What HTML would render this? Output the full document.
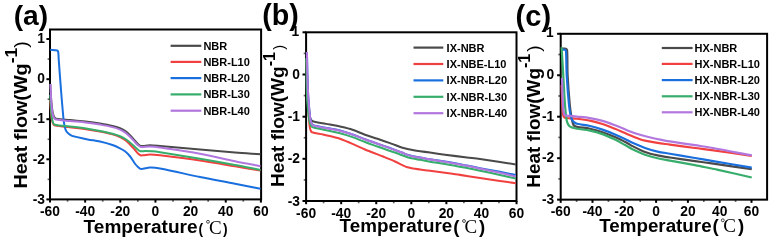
<!DOCTYPE html>
<html><head><meta charset="utf-8"><title>DSC curves</title>
<style>
html,body{margin:0;padding:0;background:#fff;}
body{width:775px;height:240px;overflow:hidden;}
svg{display:block;font-family:"Liberation Sans",sans-serif;transform:translateZ(0);will-change:transform;}
</style></head><body>
<svg width="775" height="240" viewBox="0 0 775 240">
<rect width="775" height="240" fill="#fff"/>
<!-- panel a -->
<g stroke="#000" stroke-width="2" fill="none">
<rect x="50.00" y="29.50" width="211.10" height="169.90"/>
<line x1="50.00" y1="199.40" x2="50.00" y2="202.60"/>
<line x1="85.15" y1="199.40" x2="85.15" y2="202.60"/>
<line x1="120.30" y1="199.40" x2="120.30" y2="202.60"/>
<line x1="155.45" y1="199.40" x2="155.45" y2="202.60"/>
<line x1="190.60" y1="199.40" x2="190.60" y2="202.60"/>
<line x1="225.75" y1="199.40" x2="225.75" y2="202.60"/>
<line x1="260.90" y1="199.40" x2="260.90" y2="202.60"/>
<line x1="50.00" y1="39.00" x2="46.40" y2="39.00"/>
<line x1="50.00" y1="79.20" x2="46.40" y2="79.20"/>
<line x1="50.00" y1="119.20" x2="46.40" y2="119.20"/>
<line x1="50.00" y1="159.30" x2="46.40" y2="159.30"/>
<line x1="50.00" y1="199.40" x2="46.40" y2="199.40"/>
</g>
<g stroke="#000" stroke-width="1.7" opacity="0.6">
<line x1="67.55" y1="199.40" x2="67.55" y2="201.70"/>
<line x1="102.70" y1="199.40" x2="102.70" y2="201.70"/>
<line x1="137.85" y1="199.40" x2="137.85" y2="201.70"/>
<line x1="173.00" y1="199.40" x2="173.00" y2="201.70"/>
<line x1="208.15" y1="199.40" x2="208.15" y2="201.70"/>
<line x1="243.30" y1="199.40" x2="243.30" y2="201.70"/>
<line x1="50.00" y1="59.10" x2="47.60" y2="59.10"/>
<line x1="50.00" y1="99.20" x2="47.60" y2="99.20"/>
<line x1="50.00" y1="139.25" x2="47.60" y2="139.25"/>
<line x1="50.00" y1="179.35" x2="47.60" y2="179.35"/>
</g>
<g fill="none" stroke-width="2.0" stroke-linejoin="round" stroke-linecap="butt">
<path d="M50.20 84.00C50.53 89.28 50.75 94.73 51.20 100.00C51.54 103.97 51.93 108.07 52.60 112.00C52.89 113.70 53.28 115.48 54.10 117.00C54.52 117.79 55.32 118.53 56.20 118.70C60.69 119.58 65.44 119.66 70.00 120.10C75.77 120.65 81.74 121.05 87.50 121.70C91.64 122.17 95.89 122.81 100.00 123.50C104.14 124.20 108.41 124.94 112.50 125.90C115.02 126.49 117.60 127.24 120.00 128.20C121.74 128.90 123.46 129.84 125.00 130.90C126.77 132.12 128.47 133.58 130.00 135.10C131.84 136.93 133.47 139.06 135.20 141.00C136.18 142.10 137.13 143.29 138.20 144.30C138.89 144.95 139.60 145.70 140.50 146.00C141.28 146.26 142.18 145.96 143.00 145.90C145.31 145.73 147.68 145.29 150.00 145.30C153.31 145.32 156.70 145.72 160.00 146.00C173.20 147.11 186.80 148.36 200.00 149.50C211.55 150.50 223.44 151.59 235.00 152.50C243.41 153.16 252.09 153.67 260.50 154.25" stroke="#4a4a4a"/>
<path d="M50.20 100.00C50.63 105.94 50.80 112.09 51.50 118.00C51.73 119.90 52.20 121.86 53.00 123.60C53.39 124.45 54.09 125.41 55.00 125.60C59.87 126.63 65.06 126.62 70.00 127.20C75.78 127.88 81.74 128.56 87.50 129.40C91.64 130.01 95.89 130.78 100.00 131.60C104.15 132.43 108.42 133.30 112.50 134.40C115.03 135.08 117.61 135.93 120.00 137.00C121.76 137.79 123.46 138.85 125.00 140.00C126.78 141.33 128.43 142.93 130.00 144.50C131.73 146.23 133.37 148.17 135.00 150.00C136.01 151.14 136.90 152.44 138.00 153.50C138.73 154.21 139.54 154.96 140.50 155.30C141.28 155.58 142.18 155.37 143.00 155.30C145.32 155.10 147.67 154.50 150.00 154.50C153.31 154.50 156.71 154.91 160.00 155.30C173.22 156.89 186.83 158.58 200.00 160.50C211.58 162.19 223.45 164.32 235.00 166.25C243.42 167.66 252.09 169.16 260.50 170.60" stroke="#F14040"/>
<path d="M50.20 49.75C52.54 50.00 55.03 49.86 57.30 50.50C57.86 50.66 58.11 51.43 58.20 52.00C58.60 54.62 58.56 57.36 58.75 60.00C59.48 69.90 60.21 80.10 61.00 90.00C61.74 99.24 62.53 108.77 63.40 118.00C63.59 119.99 63.86 122.03 64.20 124.00C64.46 125.50 64.75 127.05 65.20 128.50C65.52 129.53 65.89 130.61 66.50 131.50C67.16 132.46 68.10 133.26 69.00 134.00C69.76 134.62 70.60 135.21 71.50 135.60C72.60 136.08 73.83 136.33 75.00 136.60C79.19 137.58 83.52 138.57 87.75 139.40C91.77 140.19 96.00 140.59 100.00 141.50C104.18 142.45 108.44 143.62 112.50 145.00C115.06 145.87 117.58 147.09 120.00 148.30C121.71 149.16 123.50 150.06 125.00 151.25C126.83 152.70 128.54 154.43 130.00 156.25C131.86 158.57 133.22 161.36 135.00 163.75C135.87 164.92 136.93 166.00 138.00 167.00C138.76 167.71 139.53 168.55 140.50 168.90C141.28 169.18 142.18 168.91 143.00 168.80C145.32 168.48 147.66 167.64 150.00 167.60C153.31 167.54 156.74 167.89 160.00 168.50C173.26 170.99 186.78 174.31 200.00 177.00C211.53 179.34 223.45 181.51 235.00 183.75C243.42 185.38 252.09 187.10 260.50 188.75" stroke="#1A6FDF"/>
<path d="M50.20 95.00C50.63 101.60 50.83 108.42 51.50 115.00C51.76 117.51 52.15 120.12 53.00 122.50C53.34 123.45 54.02 124.57 55.00 124.80C59.85 125.94 65.05 125.90 70.00 126.50C75.78 127.20 81.74 127.89 87.50 128.75C91.64 129.37 95.89 130.18 100.00 131.00C104.14 131.83 108.41 132.69 112.50 133.75C115.02 134.41 117.58 135.23 120.00 136.20C121.72 136.89 123.43 137.76 125.00 138.75C126.75 139.85 128.41 141.19 130.00 142.50C131.71 143.91 133.36 145.50 135.00 147.00C136.00 147.91 136.93 148.97 138.00 149.80C138.75 150.38 139.56 151.09 140.50 151.25C141.97 151.50 143.51 151.00 145.00 151.00C147.48 151.00 150.03 151.05 152.50 151.25C154.99 151.45 157.54 151.81 160.00 152.20C173.21 154.29 186.81 156.50 200.00 158.75C211.57 160.72 223.47 162.86 235.00 165.00C243.43 166.57 252.09 168.35 260.50 170.00" stroke="#37AD6B"/>
<path d="M50.50 84.00C50.73 89.28 50.86 94.73 51.20 100.00C51.46 103.97 51.72 108.07 52.30 112.00C52.58 113.89 52.96 115.88 53.80 117.60C54.23 118.48 55.04 119.40 56.00 119.60C60.54 120.55 65.38 120.55 70.00 121.00C75.77 121.57 81.74 122.01 87.50 122.70C91.64 123.20 95.89 123.88 100.00 124.60C104.14 125.33 108.42 126.08 112.50 127.10C115.03 127.73 117.60 128.58 120.00 129.60C121.74 130.34 123.46 131.31 125.00 132.40C126.77 133.66 128.45 135.18 130.00 136.70C131.75 138.42 133.32 140.41 135.00 142.20C135.96 143.22 136.94 144.29 138.00 145.20C138.76 145.85 139.56 146.58 140.50 146.90C141.28 147.17 142.18 146.93 143.00 146.90C145.31 146.83 147.69 146.50 150.00 146.60C153.31 146.74 156.72 147.13 160.00 147.60C173.22 149.49 186.86 151.36 200.00 153.75C211.62 155.87 223.43 158.86 235.00 161.25C243.40 162.99 252.09 164.60 260.50 166.25" stroke="#B177DE"/>
</g>
<g font-size="13.8" font-weight="bold" text-anchor="middle">
<text x="50.00" y="216.30">-60</text>
<text x="85.15" y="216.30">-40</text>
<text x="120.30" y="216.30">-20</text>
<text x="155.45" y="216.30">0</text>
<text x="190.60" y="216.30">20</text>
<text x="225.75" y="216.30">40</text>
<text x="260.90" y="216.30">60</text>
</g>
<g font-size="13.8" font-weight="bold" text-anchor="end">
<text x="45.00" y="43.20">1</text>
<text x="45.00" y="83.40">0</text>
<text x="45.00" y="123.40">-1</text>
<text x="45.00" y="163.50">-2</text>
<text x="45.00" y="203.60">-3</text>
</g>
<g stroke-width="2.2" fill="none">
<line x1="170.60" y1="45.80" x2="201.30" y2="45.80" stroke="#4a4a4a"/>
<line x1="170.60" y1="61.90" x2="201.30" y2="61.90" stroke="#F14040"/>
<line x1="170.60" y1="78.10" x2="201.30" y2="78.10" stroke="#1A6FDF"/>
<line x1="170.60" y1="94.40" x2="201.30" y2="94.40" stroke="#37AD6B"/>
<line x1="170.60" y1="110.70" x2="201.30" y2="110.70" stroke="#B177DE"/>
</g>
<g font-size="11" font-weight="bold">
<text x="203.40" y="49.70">NBR</text>
<text x="203.40" y="65.80">NBR-L10</text>
<text x="203.40" y="82.00">NBR-L20</text>
<text x="203.40" y="98.30">NBR-L30</text>
<text x="203.40" y="114.60">NBR-L40</text>
</g>
<text x="13.7" y="25.0" font-size="28.2" font-weight="bold">(a)</text>
<g transform="translate(26.90 114.80) rotate(-90)">
<text x="0" y="0" font-size="18.3" font-weight="bold" text-anchor="middle" textLength="147.5" lengthAdjust="spacingAndGlyphs">Heat flow(Wg<tspan font-size="16.3" dy="-9.5">-1</tspan><tspan dx="0.0" dy="9.5" font-weight="normal" font-size="18.3">)</tspan></text>
</g>
<text x="83.60" y="233.10" font-size="18" font-weight="bold" textLength="114.0" lengthAdjust="spacingAndGlyphs">Temperature</text>
<text x="198.4" y="233.9" font-size="13.8" font-weight="bold">(</text><circle cx="208" cy="221.8" r="1.45" fill="none" stroke="#000" stroke-width="0.7"/><text x="209" y="233.8" font-size="19" font-family="Liberation Serif,serif">C</text><text x="222.9" y="233.9" font-size="13.8" font-weight="bold">)</text>
<!-- panel b -->
<g stroke="#000" stroke-width="2" fill="none">
<rect x="306.10" y="32.30" width="210.40" height="168.70"/>
<line x1="306.10" y1="201.00" x2="306.10" y2="204.20"/>
<line x1="341.17" y1="201.00" x2="341.17" y2="204.20"/>
<line x1="376.24" y1="201.00" x2="376.24" y2="204.20"/>
<line x1="411.31" y1="201.00" x2="411.31" y2="204.20"/>
<line x1="446.38" y1="201.00" x2="446.38" y2="204.20"/>
<line x1="481.45" y1="201.00" x2="481.45" y2="204.20"/>
<line x1="516.52" y1="201.00" x2="516.52" y2="204.20"/>
<line x1="306.10" y1="32.30" x2="302.50" y2="32.30"/>
<line x1="306.10" y1="74.50" x2="302.50" y2="74.50"/>
<line x1="306.10" y1="116.70" x2="302.50" y2="116.70"/>
<line x1="306.10" y1="158.80" x2="302.50" y2="158.80"/>
<line x1="306.10" y1="201.00" x2="302.50" y2="201.00"/>
</g>
<g stroke="#000" stroke-width="1.7" opacity="0.6">
<line x1="323.60" y1="201.00" x2="323.60" y2="203.30"/>
<line x1="358.67" y1="201.00" x2="358.67" y2="203.30"/>
<line x1="393.74" y1="201.00" x2="393.74" y2="203.30"/>
<line x1="428.81" y1="201.00" x2="428.81" y2="203.30"/>
<line x1="463.88" y1="201.00" x2="463.88" y2="203.30"/>
<line x1="498.95" y1="201.00" x2="498.95" y2="203.30"/>
<line x1="306.10" y1="53.40" x2="303.70" y2="53.40"/>
<line x1="306.10" y1="95.60" x2="303.70" y2="95.60"/>
<line x1="306.10" y1="137.75" x2="303.70" y2="137.75"/>
<line x1="306.10" y1="179.90" x2="303.70" y2="179.90"/>
</g>
<g fill="none" stroke-width="2.05" stroke-linejoin="round" stroke-linecap="butt">
<path d="M306.60 60.00C307.06 73.20 307.21 86.82 308.00 100.00C308.34 105.64 309.05 111.43 310.00 117.00C310.21 118.24 310.73 119.51 311.50 120.50C311.95 121.08 312.78 121.34 313.50 121.50C318.91 122.70 324.56 123.56 330.00 124.60C333.30 125.23 336.72 125.81 340.00 126.57C344.15 127.53 348.45 128.48 352.50 129.81C356.71 131.18 360.83 133.22 365.00 134.72C369.08 136.20 373.38 137.45 377.50 138.84C381.63 140.23 385.89 141.69 390.00 143.13C391.66 143.72 393.35 144.39 395.00 144.99C397.47 145.89 400.00 146.88 402.50 147.68C404.12 148.20 405.84 148.60 407.50 148.98C409.96 149.54 412.51 150.07 415.00 150.52C416.64 150.81 418.35 150.99 420.00 151.21C423.30 151.65 426.70 152.08 430.00 152.54C434.95 153.22 440.04 154.02 445.00 154.68C452.25 155.65 459.74 156.56 467.00 157.48C471.29 158.02 475.72 158.49 480.00 159.08C486.61 159.99 493.40 161.02 500.00 162.01C505.22 162.78 510.59 163.61 515.80 164.40" stroke="#4a4a4a"/>
<path d="M306.60 60.00C307.06 74.85 307.34 90.16 308.00 105.00C308.29 111.61 308.84 118.41 309.50 125.00C309.67 126.67 309.95 128.41 310.50 130.00C310.79 130.86 311.15 132.00 312.00 132.30C315.49 133.53 319.39 133.61 323.00 134.40C327.15 135.31 331.38 136.43 335.50 137.47C336.99 137.85 338.56 138.16 340.00 138.70C344.18 140.26 348.41 142.07 352.50 143.84C356.66 145.64 360.85 147.69 365.00 149.51C366.63 150.22 368.34 150.86 370.00 151.51C372.47 152.47 375.02 153.44 377.50 154.39C379.15 155.03 380.86 155.66 382.50 156.32C386.64 157.98 390.92 159.64 395.00 161.44C397.36 162.48 399.66 163.83 402.00 164.92C403.79 165.76 405.62 166.68 407.50 167.29C409.27 167.87 411.17 168.20 413.00 168.52C415.30 168.92 417.69 169.13 420.00 169.44C423.30 169.90 426.70 170.41 430.00 170.86C434.95 171.53 440.05 172.15 445.00 172.81C449.95 173.48 455.06 174.14 460.00 174.87C466.61 175.84 473.40 176.96 480.00 177.97C486.60 178.98 493.40 180.01 500.00 180.97C505.21 181.73 510.59 182.46 515.80 183.20" stroke="#F14040"/>
<path d="M306.90 52.00C307.23 64.54 307.32 77.47 307.90 90.00C308.28 98.27 309.00 106.76 309.80 115.00C310.03 117.33 310.28 119.77 311.00 122.00C311.39 123.19 311.99 124.58 313.10 125.15C315.20 126.22 317.78 126.19 320.10 126.65C323.39 127.31 326.81 127.89 330.10 128.53C333.41 129.19 336.84 129.72 340.10 130.59C344.25 131.69 348.45 133.08 352.50 134.49C356.67 135.95 360.86 137.73 365.00 139.25C369.11 140.77 373.37 142.24 377.50 143.70C381.62 145.16 385.88 146.62 390.00 148.08C391.66 148.68 393.35 149.32 395.00 149.94C397.48 150.87 400.03 151.81 402.50 152.77C404.16 153.42 405.81 154.24 407.50 154.81C409.28 155.41 411.16 155.93 413.00 156.33C415.29 156.83 417.69 157.11 420.00 157.52C423.30 158.10 426.69 158.79 430.00 159.33C434.94 160.13 440.06 160.76 445.00 161.59C452.28 162.82 459.75 164.24 467.00 165.59C471.30 166.40 475.70 167.33 480.00 168.14C486.60 169.40 493.41 170.60 500.00 171.86C505.22 172.86 510.59 173.96 515.80 175.00" stroke="#1A6FDF"/>
<path d="M306.30 58.00C306.60 71.86 306.53 86.15 307.20 100.00C307.52 106.63 308.29 113.44 309.30 120.00C309.62 122.05 310.20 124.18 311.20 126.00C311.65 126.81 312.61 127.36 313.50 127.60C318.87 129.03 324.56 129.84 330.00 131.00C333.31 131.71 336.74 132.37 340.00 133.26C344.17 134.39 348.43 135.69 352.50 137.13C356.68 138.61 360.85 140.52 365.00 142.08C369.10 143.63 373.37 145.08 377.50 146.54C381.62 147.99 385.86 149.50 390.00 150.91C391.64 151.47 393.37 151.93 395.00 152.50C396.67 153.10 398.34 153.83 400.00 154.45C402.47 155.37 404.99 156.35 407.50 157.15C409.29 157.72 411.16 158.20 413.00 158.59C415.29 159.08 417.69 159.40 420.00 159.82C423.30 160.41 426.69 161.12 430.00 161.66C434.94 162.48 440.07 163.07 445.00 163.92C452.28 165.17 459.75 166.62 467.00 168.02C471.30 168.84 475.72 169.74 480.00 170.65C486.61 172.05 493.40 173.56 500.00 175.02C505.22 176.18 510.59 177.42 515.80 178.60" stroke="#37AD6B"/>
<path d="M306.90 52.00C307.23 64.54 307.32 77.47 307.90 90.00C308.28 98.27 309.00 106.76 309.80 115.00C310.03 117.33 310.31 119.76 311.00 122.00C311.38 123.24 311.86 124.78 313.00 125.40C315.07 126.53 317.68 126.44 320.00 126.90C323.29 127.56 326.70 128.14 330.00 128.78C333.30 129.43 336.74 129.97 340.00 130.81C344.17 131.88 348.42 133.19 352.50 134.58C356.68 136.00 360.86 137.78 365.00 139.30C369.11 140.81 373.37 142.29 377.50 143.75C381.62 145.21 385.88 146.67 390.00 148.13C391.66 148.73 393.35 149.37 395.00 149.99C397.48 150.92 400.03 151.86 402.50 152.82C404.16 153.47 405.81 154.29 407.50 154.86C409.28 155.46 411.16 155.98 413.00 156.38C415.29 156.88 417.69 157.16 420.00 157.57C423.30 158.15 426.69 158.84 430.00 159.38C434.94 160.18 440.07 160.80 445.00 161.64C452.28 162.88 459.76 164.27 467.00 165.69C471.31 166.53 475.71 167.55 480.00 168.48C486.60 169.92 493.41 171.37 500.00 172.87C505.22 174.05 510.59 175.37 515.80 176.60" stroke="#B177DE"/>
</g>
<g font-size="13.8" font-weight="bold" text-anchor="middle">
<text x="306.10" y="217.60">-60</text>
<text x="341.17" y="217.60">-40</text>
<text x="376.24" y="217.60">-20</text>
<text x="411.31" y="217.60">0</text>
<text x="446.38" y="217.60">20</text>
<text x="481.45" y="217.60">40</text>
<text x="516.52" y="217.60">60</text>
</g>
<g font-size="13.8" font-weight="bold" text-anchor="end">
<text x="299.20" y="35.70">1</text>
<text x="300.00" y="79.00">0</text>
<text x="300.00" y="121.20">-1</text>
<text x="300.00" y="163.30">-2</text>
<text x="300.00" y="205.50">-3</text>
</g>
<g stroke-width="2.2" fill="none">
<line x1="413.50" y1="47.60" x2="443.30" y2="47.60" stroke="#4a4a4a"/>
<line x1="413.50" y1="64.00" x2="443.30" y2="64.00" stroke="#F14040"/>
<line x1="413.50" y1="80.40" x2="443.30" y2="80.40" stroke="#1A6FDF"/>
<line x1="413.50" y1="96.80" x2="443.30" y2="96.80" stroke="#37AD6B"/>
<line x1="413.50" y1="113.20" x2="443.30" y2="113.20" stroke="#B177DE"/>
</g>
<g font-size="11" font-weight="bold">
<text x="446.60" y="51.50">IX-NBR</text>
<text x="446.60" y="67.90">IX-NBE-L10</text>
<text x="446.60" y="84.30">IX-NBR-L20</text>
<text x="446.60" y="100.70">IX-NBR-L30</text>
<text x="446.60" y="117.10">IX-NBR-L40</text>
</g>
<text x="262.3" y="24.6" font-size="28.6" font-weight="bold">(b)</text>
<g transform="translate(284.00 115.90) rotate(-90)">
<text x="0" y="0" font-size="19.2" font-weight="bold" text-anchor="middle" textLength="142.0" lengthAdjust="spacingAndGlyphs">Heat flow(Wg<tspan font-size="16.3" dy="-9.5">-1</tspan><tspan dx="2.2" dy="9.2" font-weight="normal" font-size="14.6">)</tspan></text>
</g>
<text x="339.60" y="232.30" font-size="17.6" font-weight="bold" textLength="112.6" lengthAdjust="spacingAndGlyphs">Temperature</text>
<text x="453.2" y="232.9" font-size="18.6" font-weight="bold">(</text><circle cx="464" cy="221" r="1.45" fill="none" stroke="#000" stroke-width="0.7"/><text x="464.6" y="233" font-size="19" font-family="Liberation Serif,serif">C</text><text x="478.9" y="232.9" font-size="18.6" font-weight="bold">)</text>
<!-- panel c -->
<g stroke="#000" stroke-width="2" fill="none">
<rect x="560.70" y="33.80" width="206.40" height="165.85"/>
<line x1="560.70" y1="199.65" x2="560.70" y2="202.85"/>
<line x1="592.50" y1="199.65" x2="592.50" y2="202.85"/>
<line x1="624.30" y1="199.65" x2="624.30" y2="202.85"/>
<line x1="656.10" y1="199.65" x2="656.10" y2="202.85"/>
<line x1="687.90" y1="199.65" x2="687.90" y2="202.85"/>
<line x1="719.70" y1="199.65" x2="719.70" y2="202.85"/>
<line x1="751.50" y1="199.65" x2="751.50" y2="202.85"/>
<line x1="560.70" y1="33.80" x2="557.10" y2="33.80"/>
<line x1="560.70" y1="75.25" x2="557.10" y2="75.25"/>
<line x1="560.70" y1="116.70" x2="557.10" y2="116.70"/>
<line x1="560.70" y1="158.20" x2="557.10" y2="158.20"/>
<line x1="560.70" y1="199.65" x2="557.10" y2="199.65"/>
</g>
<g stroke="#000" stroke-width="1.7" opacity="0.6">
<line x1="576.60" y1="199.65" x2="576.60" y2="201.95"/>
<line x1="608.40" y1="199.65" x2="608.40" y2="201.95"/>
<line x1="640.20" y1="199.65" x2="640.20" y2="201.95"/>
<line x1="672.00" y1="199.65" x2="672.00" y2="201.95"/>
<line x1="703.80" y1="199.65" x2="703.80" y2="201.95"/>
<line x1="735.60" y1="199.65" x2="735.60" y2="201.95"/>
<line x1="560.70" y1="54.52" x2="558.30" y2="54.52"/>
<line x1="560.70" y1="95.97" x2="558.30" y2="95.97"/>
<line x1="560.70" y1="137.45" x2="558.30" y2="137.45"/>
<line x1="560.70" y1="178.93" x2="558.30" y2="178.93"/>
</g>
<g fill="none" stroke-width="2.2" stroke-linejoin="round" stroke-linecap="butt">
<path d="M561.60 48.80C563.05 48.80 564.61 48.39 566.00 48.80C566.62 48.98 567.06 49.76 567.10 50.40C567.59 58.50 567.20 66.89 567.60 75.00C568.09 84.91 568.88 95.12 569.80 105.00C570.20 109.31 570.89 113.73 571.60 118.00C571.88 119.67 572.29 121.38 572.80 123.00C573.08 123.90 573.30 124.97 574.00 125.60C574.79 126.32 575.95 126.59 577.00 126.80C581.26 127.64 585.76 127.85 590.00 128.75C594.19 129.63 598.44 130.83 602.50 132.18C606.70 133.58 610.95 135.29 615.00 137.08C619.21 138.94 623.41 141.13 627.50 143.24C629.19 144.12 630.80 145.26 632.50 146.11C636.58 148.16 640.72 150.43 645.00 152.03C649.01 153.52 653.32 154.51 657.50 155.42C661.58 156.31 665.87 156.86 670.00 157.50C678.24 158.76 686.74 160.00 695.00 161.17C700.50 161.95 706.20 162.61 711.70 163.39C724.92 165.26 738.53 167.28 751.75 169.20" stroke="#4a4a4a"/>
<path d="M561.60 85.00C561.90 92.59 562.10 100.41 562.50 108.00C562.62 110.32 562.78 112.72 563.20 115.00C563.35 115.81 563.64 116.69 564.20 117.30C564.63 117.77 565.37 117.93 566.00 118.00C569.62 118.41 573.38 118.36 577.00 118.75C581.31 119.22 585.76 119.72 590.00 120.60C594.19 121.47 598.44 122.69 602.50 124.03C606.70 125.41 610.91 127.17 615.00 128.85C619.16 130.56 623.34 132.58 627.50 134.30C631.59 136.00 635.82 137.74 640.00 139.23C641.61 139.80 643.33 140.20 645.00 140.56C649.11 141.43 653.35 142.27 657.50 142.94C661.61 143.60 665.88 144.02 670.00 144.58C678.25 145.69 686.74 146.91 695.00 147.99C700.51 148.71 706.20 149.28 711.70 150.06C724.93 151.92 738.53 154.04 751.75 156.00" stroke="#F14040"/>
<path d="M561.60 49.70C562.72 49.70 563.94 49.34 565.00 49.70C565.56 49.89 565.96 50.61 566.00 51.20C566.53 59.04 566.26 67.15 566.70 75.00C567.25 84.91 568.06 95.12 569.00 105.00C569.32 108.32 569.89 111.72 570.50 115.00C570.72 116.18 571.08 117.38 571.50 118.50C571.77 119.23 572.13 119.97 572.60 120.60C573.13 121.31 573.78 121.98 574.50 122.50C575.25 123.04 576.10 123.55 577.00 123.75C581.25 124.71 585.76 125.02 590.00 126.00C594.19 126.97 598.43 128.26 602.50 129.64C606.69 131.06 610.92 132.77 615.00 134.49C619.18 136.25 623.41 138.23 627.50 140.18C629.19 140.99 630.79 142.11 632.50 142.86C636.57 144.66 640.80 146.45 645.00 147.92C649.06 149.34 653.31 150.62 657.50 151.58C661.58 152.53 665.88 153.00 670.00 153.71C678.25 155.13 686.75 156.64 695.00 158.04C700.51 158.99 706.19 159.90 711.70 160.83C724.92 163.05 738.53 165.37 751.75 167.60" stroke="#1A6FDF"/>
<path d="M561.60 47.20C562.14 56.37 562.71 65.83 563.25 75.00C563.83 84.90 564.29 95.11 565.00 105.00C565.33 109.55 565.77 114.23 566.40 118.75C566.60 120.18 566.95 121.66 567.50 123.00C567.98 124.16 568.55 125.42 569.50 126.25C570.45 127.08 571.80 127.40 573.00 127.80C574.29 128.23 575.66 128.53 577.00 128.75C581.28 129.45 585.76 129.71 590.00 130.60C594.19 131.48 598.47 132.68 602.50 134.12C606.74 135.65 610.95 137.62 615.00 139.58C618.38 141.22 621.71 143.22 625.00 145.03C627.48 146.40 629.95 147.97 632.50 149.20C636.56 151.16 640.77 153.15 645.00 154.69C649.03 156.15 653.32 157.29 657.50 158.27C661.58 159.23 665.88 159.80 670.00 160.55C678.25 162.05 686.76 163.53 695.00 165.11C700.53 166.17 706.19 167.42 711.70 168.54C713.45 168.90 715.26 169.19 717.00 169.58C728.48 172.15 740.28 174.89 751.75 177.50" stroke="#37AD6B"/>
<path d="M562.00 78.00C562.23 85.26 562.38 92.74 562.70 100.00C562.84 103.30 563.01 106.72 563.40 110.00C563.60 111.68 563.79 113.47 564.50 115.00C564.72 115.48 565.47 115.53 566.00 115.60C569.62 116.06 573.37 116.22 577.00 116.60C581.30 117.05 585.74 117.38 590.00 118.10C594.17 118.80 598.43 119.73 602.50 120.88C606.70 122.07 610.92 123.63 615.00 125.18C619.18 126.77 623.33 128.81 627.50 130.42C631.58 131.99 635.82 133.54 640.00 134.81C644.07 136.04 648.35 137.06 652.50 138.01C656.60 138.95 660.87 139.76 665.00 140.56C666.64 140.87 668.35 141.14 670.00 141.39C678.25 142.67 686.75 143.94 695.00 145.21C700.51 146.06 706.21 146.81 711.70 147.79C724.94 150.17 738.53 152.89 751.75 155.40" stroke="#B177DE"/>
</g>
<g font-size="13.8" font-weight="bold" text-anchor="middle">
<text x="560.70" y="216.00">-60</text>
<text x="592.50" y="216.00">-40</text>
<text x="624.30" y="216.00">-20</text>
<text x="656.10" y="216.00">0</text>
<text x="687.90" y="216.00">20</text>
<text x="719.70" y="216.00">40</text>
<text x="751.50" y="216.00">60</text>
</g>
<g font-size="13.8" font-weight="bold" text-anchor="end">
<text x="553.60" y="37.10">1</text>
<text x="554.20" y="79.45">0</text>
<text x="554.20" y="120.90">-1</text>
<text x="554.20" y="162.40">-2</text>
<text x="554.20" y="203.85">-3</text>
</g>
<g stroke-width="2.2" fill="none">
<line x1="661.80" y1="48.00" x2="692.60" y2="48.00" stroke="#4a4a4a"/>
<line x1="661.80" y1="63.90" x2="692.60" y2="63.90" stroke="#F14040"/>
<line x1="661.80" y1="80.10" x2="692.60" y2="80.10" stroke="#1A6FDF"/>
<line x1="661.80" y1="96.30" x2="692.60" y2="96.30" stroke="#37AD6B"/>
<line x1="661.80" y1="112.30" x2="692.60" y2="112.30" stroke="#B177DE"/>
</g>
<g font-size="11" font-weight="bold">
<text x="694.50" y="51.90">HX-NBR</text>
<text x="694.50" y="67.80">HX-NBR-L10</text>
<text x="694.50" y="84.00">HX-NBR-L20</text>
<text x="694.50" y="100.20">HX-NBR-L30</text>
<text x="694.50" y="116.20">HX-NBR-L40</text>
</g>
<text x="515.6" y="26.4" font-size="29" font-weight="bold">(c)</text>
<g transform="translate(539.75 116.60) rotate(-90)">
<text x="0" y="0" font-size="18.9" font-weight="bold" text-anchor="middle" textLength="142.3" lengthAdjust="spacingAndGlyphs">Heat flow(Wg<tspan font-size="16.3" dy="-9.5">-1</tspan><tspan dx="1.8" dy="9.5" font-weight="normal" font-size="18.9">)</tspan></text>
</g>
<text x="599.20" y="232.00" font-size="17.6" font-weight="bold" textLength="112.4" lengthAdjust="spacingAndGlyphs">Temperature</text>
<text x="712.4" y="232.2" font-size="18.6" font-weight="bold">(</text><circle cx="722.8" cy="220.3" r="1.45" fill="none" stroke="#000" stroke-width="0.7"/><text x="723.2" y="232.4" font-size="19" font-family="Liberation Serif,serif">C</text><text x="738.1" y="232.2" font-size="18.6" font-weight="bold">)</text>
</svg>
</body></html>
